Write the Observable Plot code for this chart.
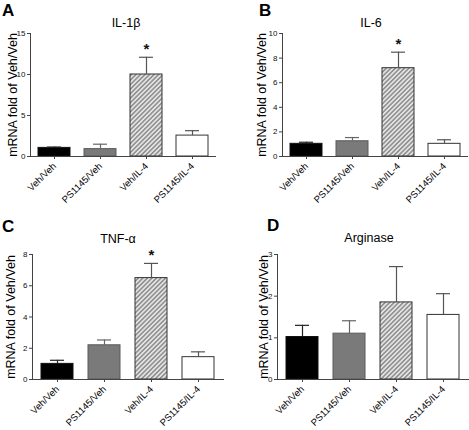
<!DOCTYPE html>
<html>
<head>
<meta charset="utf-8">
<script src="https://cdn.jsdelivr.net/npm/d3@7"></script>
<script src="https://cdn.jsdelivr.net/npm/@observablehq/plot@0.6"></script>
<style>
  html, body { margin: 0; padding: 0; background: #fff; }
  #root { position: relative; width: 469px; height: 430px; overflow: hidden; font-family: "Liberation Sans", Arial, sans-serif; }
  #root > svg.panel { position: absolute; }
  #overlay { position: absolute; left: 0; top: 0; pointer-events: none; }
</style>
</head>
<body>
<svg width="0" height="0" style="position:absolute">
  <defs>
    <pattern id="hatch" patternUnits="userSpaceOnUse" width="3.2" height="3.2" patternTransform="rotate(45)">
      <rect width="3.2" height="3.2" fill="#e4e4e4"></rect>
      <line x1="1.6" y1="0" x2="1.6" y2="3.2" stroke="#333" stroke-width="0.75"></line>
    </pattern>
  </defs>
</svg>
<div id="root"></div>
<script>
// ---- data ----
const conditions = ["Veh/Veh", "PS1145/Veh", "Veh/IL-4", "PS1145/IL-4"];
const yLabel = "mRNA fold of Veh/Veh";

const panelLetters = ["A", "B", "C", "D"];
const panelTitles = ["IL-1β", "IL-6", "TNF-α", "Arginase"];

const il1bMean = [1.05, 0.9, 10.0, 2.55];
const il1bSem  = [0.1, 0.6, 2.1, 0.6];
const il1bTicks = [0, 5, 10, 15];
const il1bStar = [false, false, true, false];

const il6Mean = [1.03, 1.24, 7.18, 1.03];
const il6Sem  = [0.13, 0.3, 1.3, 0.33];
const il6Ticks = [0, 2, 4, 6, 8, 10];
const il6Star = [false, false, true, false];

const tnfMean = [1.0, 2.19, 6.49, 1.43];
const tnfSem  = [0.23, 0.34, 0.94, 0.34];
const tnfTicks = [0, 2, 4, 6, 8];
const tnfStar = [false, false, true, false];

const argMean = [1.02, 1.10, 1.85, 1.55];
const argSem  = [0.28, 0.31, 0.86, 0.51];
const argTicks = [0, 1, 2, 3];
const argStar = [false, false, false, false];

// ---- styles per condition ----
const fills   = ["#000000", "#7a7a7a", "url(#hatch)", "#ffffff"];
const strokes = ["#111111", "#5a5a5a", "#333333", "#333333"];
const whiskers = ["#222222", "#666666", "#555555", "#555555"];

function rowsOf(means, sems, stars) {
  return conditions.map((c, i) => ({
    cond: c, mean: means[i], upper: means[i] + sems[i],
    fill: fills[i], stroke: strokes[i], whisker: whiskers[i], star: stars[i]
  }));
}

function panel(means, sems, ticks, stars, opt) {
  const rows = rowsOf(means, sems, stars);
  const svg = Plot.plot({
    width: 234, height: 215,
    marginLeft: opt.ml, marginRight: opt.mr, marginTop: opt.mt, marginBottom: opt.mb,
    style: { fontFamily: '"Liberation Sans", Arial, sans-serif', background: "transparent", overflow: "visible", color: "#111" },
    x: { domain: conditions, paddingInner: 0.31, paddingOuter: 0.16, label: null },
    y: { domain: [0, ticks[ticks.length - 1]], label: null },
    color: { type: "identity" },
    marks: [
      Plot.barY(rows, { x: "cond", y: "mean", fill: "fill", stroke: "stroke", strokeWidth: 1 }),
      Plot.ruleX(rows, { x: "cond", y1: "mean", y2: "upper", stroke: "whisker", strokeWidth: 1.2 }),
      Plot.tickY(rows, { x: "cond", y: "upper", stroke: "whisker", strokeWidth: 1.2, insetLeft: 9, insetRight: 9 }),
      Plot.text(rows.filter(d => d.star), { x: "cond", y: "upper", text: () => "*", dy: -8, fontSize: 15, fontWeight: "bold", fill: "#111" }),
      Plot.frame({ anchor: "left", stroke: "#444" }),
      Plot.frame({ anchor: "bottom", stroke: "#444" }),
      Plot.axisY({ ticks, tickFormat: d => String(d), tickSize: 3, tickPadding: 2, fontSize: 8, label: null, stroke: "#444", fill: "#111" }),
      Plot.axisX({ tickRotate: -45, tickSize: 3, tickPadding: 5, fontSize: 9.5, label: null, stroke: "#444", fill: "#000" }),
      Plot.text([yLabel], { frameAnchor: "left", textAnchor: "middle", lineAnchor: "middle", dx: opt.labelDx, rotate: -90, fontSize: 12.5, fill: "#000" })
    ]
  });
  svg.classList.add("panel");
  svg.style.left = opt.left + "px";
  svg.style.top = opt.top + "px";
  return svg;
}

const root = document.getElementById("root");
root.appendChild(panel(il1bMean, il1bSem, il1bTicks, il1bStar, { left: 0, top: 0, ml: 30, mr: 19, mt: 33, mb: 59, labelDx: -18 }));
root.appendChild(panel(il6Mean, il6Sem, il6Ticks, il6Star, { left: 235, top: 0, ml: 47, mr: 2, mt: 33, mb: 59, labelDx: -21 }));
root.appendChild(panel(tnfMean, tnfSem, tnfTicks, tnfStar, { left: 0, top: 215, ml: 32, mr: 11, mt: 39, mb: 51, labelDx: -22 }));
root.appendChild(panel(argMean, argSem, argTicks, argStar, { left: 235, top: 215, ml: 42, mr: 1, mt: 39, mb: 51, labelDx: -14 }));

// ---- letters and titles ----
const ns = "http://www.w3.org/2000/svg";
const overlay = document.createElementNS(ns, "svg");
overlay.setAttribute("id", "overlay");
overlay.setAttribute("width", 469);
overlay.setAttribute("height", 430);
const letterPos = [[2, 16], [259, 16], [2, 232], [267, 231]];
const titlePos = [[126, 27], [371, 27], [118, 243], [369, 242]];
panelLetters.forEach((t, i) => {
  const el = document.createElementNS(ns, "text");
  el.setAttribute("x", letterPos[i][0]); el.setAttribute("y", letterPos[i][1]);
  el.setAttribute("font-size", 17); el.setAttribute("font-weight", "bold");
  el.setAttribute("font-family", '"Liberation Sans", Arial, sans-serif');
  el.textContent = t; overlay.appendChild(el);
});
panelTitles.forEach((t, i) => {
  const el = document.createElementNS(ns, "text");
  el.setAttribute("x", titlePos[i][0]); el.setAttribute("y", titlePos[i][1]);
  el.setAttribute("font-size", 12.5); el.setAttribute("text-anchor", "middle");
  el.setAttribute("font-family", '"Liberation Sans", Arial, sans-serif');
  el.textContent = t; overlay.appendChild(el);
});
root.appendChild(overlay);
</script>
</body>
</html>
